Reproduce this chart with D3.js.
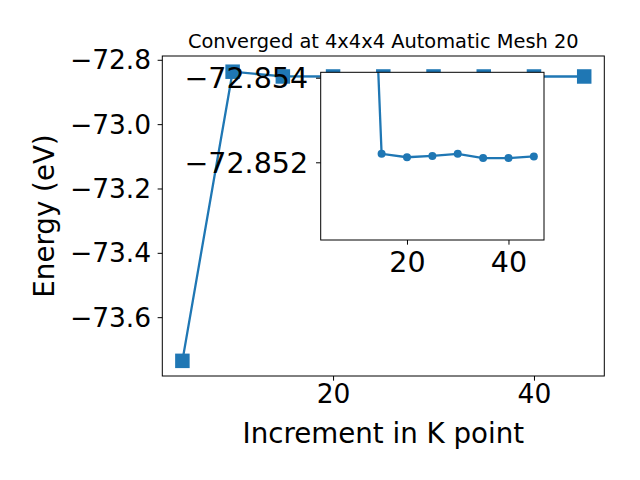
<!DOCTYPE html>
<html>
<head>
<meta charset="utf-8">
<script src="https://cdn.jsdelivr.net/npm/d3@7"></script>
<style>
  html, body { margin: 0; padding: 0; background: #fff; }
  svg { display: block; font-family: "DejaVu Sans", sans-serif; }
</style>
</head>
<body>
<svg id="chart" width="640" height="480"></svg>
<script>
// ---- data ----
const kpoints = [5, 10, 15, 20, 25, 30, 35, 40, 45];
const energies = [-73.7357, -72.8370, -72.85180, -72.85188, -72.85185, -72.85180, -72.85190, -72.85190, -72.85186];
const insetFirstK = 10; // inset plots the series from this k point on
const mainXTicks = [20, 40];
const mainYTicks = [-72.8, -73.0, -73.2, -73.4, -73.6];
const insetXTicks = [20, 40];
const insetYTicks = [-72.852, -72.850];
const insetYTickLabels = ["\u221272.852", "\u221272.854"];
const titleText = "Converged at 4x4x4 Automatic Mesh 20";
const xLabelText = "Increment in K point";
const yLabelText = "Energy (eV)";

const color = "#1f77b4";
const svg = d3.select("#chart");
const data = kpoints.map((k, i) => ({ k, e: energies[i] }));
const insetData = data.filter(d => d.k >= insetFirstK);

// ---- main axes ----
const M = { left: 162.3, right: 604.3, top: 56, bottom: 376 };
const x = d3.scaleLinear().domain([3, 47]).range([M.left, M.right]);
const y = d3.scaleLinear().domain([-73.7828, -72.7882]).range([M.bottom, M.top]);

svg.append("defs").append("clipPath").attr("id", "mainclip")
  .append("rect").attr("x", M.left).attr("y", M.top)
  .attr("width", M.right - M.left).attr("height", M.bottom - M.top);

const main = svg.append("g");
main.append("rect").attr("x", M.left).attr("y", M.top)
  .attr("width", M.right - M.left).attr("height", M.bottom - M.top).attr("fill", "#fff");

const line = d3.line().x(d => x(d.k)).y(d => y(d.e));
main.append("path").datum(data).attr("d", line)
  .attr("fill", "none").attr("stroke", color).attr("stroke-width", 2.3)
  .attr("clip-path", "url(#mainclip)");
const sq = 14.5;
main.selectAll("rect.m").data(data).enter().append("rect").attr("class", "m")
  .attr("x", d => x(d.k) - sq / 2).attr("y", d => y(d.e) - sq / 2)
  .attr("width", sq).attr("height", sq).attr("fill", color);

main.append("rect").attr("x", M.left).attr("y", M.top)
  .attr("width", M.right - M.left).attr("height", M.bottom - M.top)
  .attr("fill", "none").attr("stroke", "#000").attr("stroke-width", 1);

function styleAxis(g, fs) {
  g.select(".domain").remove();
  g.selectAll(".tick line").attr("stroke", "#000").attr("stroke-width", 1);
  g.selectAll(".tick text").attr("fill", "#000").style("font-size", fs + "px")
    .style("font-family", "DejaVu Sans");
}

const gx = main.append("g").attr("transform", `translate(0,${M.bottom})`)
  .call(d3.axisBottom(x).tickValues(mainXTicks).tickFormat(d3.format("d")).tickSize(4.67).tickPadding(3.6));
styleAxis(gx, 26.5);
const gy = main.append("g").attr("transform", `translate(${M.left},0)`)
  .call(d3.axisLeft(y).tickValues(mainYTicks).tickFormat(d3.format(".1f")).tickSize(4.67).tickPadding(6.5));
styleAxis(gy, 26.5);
gy.selectAll(".tick text").attr("dy", "0.34em");

svg.append("text").attr("x", (M.left + M.right) / 2).attr("y", 48)
  .attr("text-anchor", "middle").style("font-size", "19.4px").attr("fill", "#000").text(titleText);
svg.append("text").attr("x", (M.left + M.right) / 2).attr("y", 443)
  .attr("text-anchor", "middle").style("font-size", "27.7px").attr("fill", "#000").text(xLabelText);
svg.append("text").attr("transform", `translate(53.5,${(M.top + M.bottom) / 2}) rotate(-90)`)
  .attr("text-anchor", "middle").style("font-size", "27.7px").attr("fill", "#000").text(yLabelText);

// ---- inset axes ----
const I = { left: 320.7, right: 544, top: 72.3, bottom: 240 };
const xi = d3.scaleLinear().domain([3, 47]).range([I.left, I.right]);
const yi = d3.scaleLinear().domain([-72.853837, -72.849872]).range([I.bottom, I.top]);

svg.select("defs").append("clipPath").attr("id", "insetclip")
  .append("rect").attr("x", I.left).attr("y", I.top)
  .attr("width", I.right - I.left).attr("height", I.bottom - I.top);

const inset = svg.append("g");
inset.append("rect").attr("x", I.left).attr("y", I.top)
  .attr("width", I.right - I.left).attr("height", I.bottom - I.top).attr("fill", "#fff");
const linei = d3.line().x(d => xi(d.k)).y(d => yi(d.e));
const plotI = inset.append("g").attr("clip-path", "url(#insetclip)");
plotI.append("path").datum(insetData).attr("d", linei)
  .attr("fill", "none").attr("stroke", color).attr("stroke-width", 2.3);
plotI.selectAll("circle").data(insetData).enter().append("circle")
  .attr("cx", d => xi(d.k)).attr("cy", d => yi(d.e)).attr("r", 4).attr("fill", color);
inset.append("rect").attr("x", I.left).attr("y", I.top)
  .attr("width", I.right - I.left).attr("height", I.bottom - I.top)
  .attr("fill", "none").attr("stroke", "#000").attr("stroke-width", 1);

const gxi = inset.append("g").attr("transform", `translate(0,${I.bottom})`)
  .call(d3.axisBottom(xi).tickValues(insetXTicks).tickFormat(d3.format("d")).tickSize(4.67).tickPadding(7));
styleAxis(gxi, 28.5);
const gyi = inset.append("g").attr("transform", `translate(${I.left},0)`)
  .call(d3.axisLeft(yi).tickValues(insetYTicks)
    .tickFormat((d, i) => insetYTickLabels[i]).tickSize(4.67).tickPadding(8));
styleAxis(gyi, 28.5);
gyi.selectAll(".tick text").attr("dy", "0.34em");
</script>
</body>
</html>
